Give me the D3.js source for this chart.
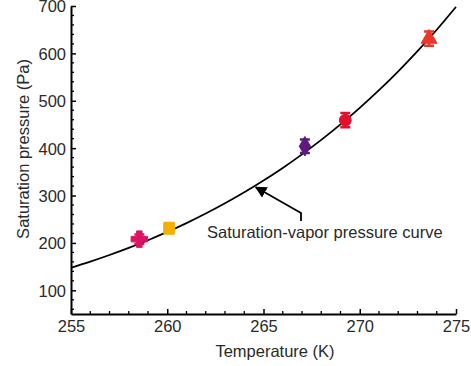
<!DOCTYPE html>
<html>
<head>
<meta charset="utf-8">
<script src="https://cdn.jsdelivr.net/npm/d3@7"></script>
<style>
  body { margin: 0; background: #fff; }
  text { font-family: "Liberation Sans", Arial, sans-serif; fill: #2a2a2a; }
</style>
</head>
<body>
<div id="chart"></div>
<script>
// saturation-vapor pressure curve (K, Pa)
var curveT = [255, 256, 257, 258, 259, 260, 261, 262, 263, 264, 265, 266, 267, 268, 269, 270, 271, 272, 273, 274, 275];
var curveP = [147.5, 160.5, 174.5, 189.5, 205.7, 223.2, 241.9, 262.0, 283.6, 306.8, 331.7, 358.3, 386.9, 417.4, 450.1, 485.0, 522.3, 562.1, 604.6, 649.9, 698.2];

// measured points
var pointT = [258.55, 260.1, 267.15, 269.25, 273.6];
var pointP = [208, 231, 404, 459, 631];
var pointErr = [10, 11, 14, 15, 15];

var xTicks = [255, 260, 265, 270, 275];
var yTicks = [100, 200, 300, 400, 500, 600, 700];

var labelText = "Saturation-vapor pressure curve";

function init(){
    var w = 471;
    var h = 366;

    var colors = ["#dc1262", "#f2b100", "#5e1a7e", "#e2102c", "#e8382b"];
    var shapes = [d3.symbolCross, d3.symbolSquare, d3.symbolDiamond, d3.symbolCircle, d3.symbolTriangle];
    var sizes = [150, 120, 110, 110, 110];

    var x = d3.scaleLinear().domain([255, 275]).range([71, 456]);
    var y = d3.scaleLinear().domain([50, 700]).range([314, 6]);

    var svg = d3.select("#chart")
                .append("svg")
                .attr("width", w)
                .attr("height", h);

    // minor ticks
    var xMinor = d3.range(256, 275, 1).filter(function(d){ return d % 5 !== 0; });
    var yMinor = d3.range(60, 700, 20).filter(function(d){ return d % 100 !== 0; });

    svg.selectAll(".xminor")
        .data(xMinor)
        .enter()
        .append("line")
        .attr("x1", function(d){ return x(d); })
        .attr("x2", function(d){ return x(d); })
        .attr("y1", y(50))
        .attr("y2", y(50) - 3)
        .attr("stroke", "#000")
        .attr("stroke-width", 1.3);

    svg.selectAll(".yminor")
        .data(yMinor)
        .enter()
        .append("line")
        .attr("x1", x(255))
        .attr("x2", x(255) + 3)
        .attr("y1", function(d){ return y(d); })
        .attr("y2", function(d){ return y(d); })
        .attr("stroke", "#000")
        .attr("stroke-width", 1.3);

    // axes
    var xAxis = d3.axisBottom(x).tickValues(xTicks).tickSizeInner(-5).tickSizeOuter(0).tickPadding(9);
    var yAxis = d3.axisLeft(y).tickValues(yTicks).tickSizeInner(-5).tickSizeOuter(0).tickPadding(9);

    var gx = svg.append("g").attr("transform", "translate(0," + y(50) + ")").call(xAxis);
    var gy = svg.append("g").attr("transform", "translate(" + x(255) + ",0)").call(yAxis);

    [gx, gy].forEach(function(g){
        g.select(".domain").attr("stroke", "#000").attr("stroke-width", 2);
        g.selectAll(".tick line").attr("stroke", "#000").attr("stroke-width", 1.5);
        g.selectAll(".tick text")
            .style("font-family", "Liberation Sans, Arial, sans-serif")
            .style("font-size", "16.5px")
            .attr("fill", "#2a2a2a");
    });
    gx.selectAll(".tick text").attr("dy", "0.55em");
    gy.selectAll(".tick text").attr("x", -5).attr("dy", "0.36em");

    // axis titles
    svg.append("text")
        .attr("x", 275)
        .attr("y", 357)
        .attr("text-anchor", "middle")
        .style("font-size", "16.5px")
        .text("Temperature (K)");

    svg.append("text")
        .attr("transform", "translate(29,149) rotate(-90)")
        .attr("text-anchor", "middle")
        .style("font-size", "16.5px")
        .text("Saturation pressure (Pa)");

    // curve
    var line = d3.line()
        .x(function(d){ return x(d[0]); })
        .y(function(d){ return y(d[1]); })
        .curve(d3.curveMonotoneX);

    svg.append("path")
        .datum(d3.zip(curveT, curveP))
        .attr("d", line)
        .attr("fill", "none")
        .attr("stroke", "#000")
        .attr("stroke-width", 1.8);

    // error bars
    var pts = d3.range(pointT.length);
    svg.selectAll(".err")
        .data(pts)
        .enter()
        .append("path")
        .attr("d", function(i){
            var cx = x(pointT[i]);
            var t = y(pointP[i] + pointErr[i]);
            var b = y(pointP[i] - pointErr[i]);
            return "M" + (cx - 5) + "," + t + "H" + (cx + 5) +
                   "M" + cx + "," + t + "V" + b +
                   "M" + (cx - 5) + "," + b + "H" + (cx + 5);
        })
        .attr("stroke", function(i){ return colors[i]; })
        .attr("stroke-width", 2.5)
        .attr("fill", "none");

    // markers
    svg.selectAll(".mark")
        .data(pts)
        .enter()
        .append("path")
        .attr("transform", function(i){ return "translate(" + x(pointT[i]) + "," + y(pointP[i]) + ")"; })
        .attr("d", function(i){ return d3.symbol().type(shapes[i]).size(sizes[i])(); })
        .attr("fill", function(i){ return colors[i]; })
        .attr("stroke", function(i){ return colors[i]; })
        .attr("stroke-width", 1)
        .attr("stroke-linejoin", "round");

    // annotation arrow
    var tip = [x(264.6), y(326) + 4];
    svg.append("defs").append("marker")
        .attr("id", "head")
        .attr("viewBox", "0 0 10 10")
        .attr("refX", 9)
        .attr("refY", 5)
        .attr("markerWidth", 6.5)
        .attr("markerHeight", 6.5)
        .attr("orient", "auto")
        .append("path")
        .attr("d", "M0,0L10,5L0,10z")
        .attr("fill", "#000");

    svg.append("path")
        .attr("d", "M301,221V213L" + tip[0] + "," + tip[1])
        .attr("fill", "none")
        .attr("stroke", "#000")
        .attr("stroke-width", 1.8)
        .attr("marker-end", "url(#head)");

    svg.append("text")
        .attr("x", 207)
        .attr("y", 238)
        .style("font-size", "16.5px")
        .text(labelText);
}
window.onload = init;
</script>
</body>
</html>
